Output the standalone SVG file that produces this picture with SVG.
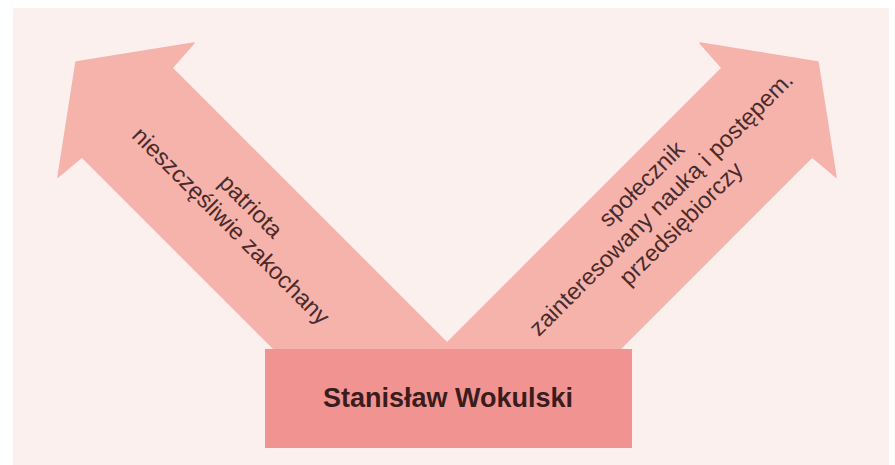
<svg xmlns="http://www.w3.org/2000/svg" width="895" height="465" viewBox="0 0 895 465">
  <style>
    .arrow { fill: #F5B3AC; stroke: #F5B3AC; stroke-width: 1.5; stroke-linejoin: round; }
    .lbl { font-family: "Liberation Sans", Arial, sans-serif; font-size: 23.5px; fill: #4a2a2a; text-anchor: middle; }
    .box { fill: #F19390; }
    .title { font-family: "Liberation Sans", Arial, sans-serif; font-size: 27px; font-weight: bold; fill: #3a1c1c; text-anchor: middle; }
  </style>
  <rect x="0" y="0" width="895" height="465" fill="#ffffff"/>
  <rect id="background" x="13" y="8" width="876" height="457" fill="#FCF0EE"/>
  <g id="connectors">
    <g id="arrow-left">
      <polygon class="arrow" points="274,349 82,157 58,177 76,62 194,43 172,68 453,349"/>
      <g transform="translate(225.5,231.5) rotate(45)">
        <text class="lbl" x="0" y="-28">patriota</text>
        <text class="lbl" x="0" y="0">nieszczęśliwie zakochany</text>
      </g>
    </g>
    <g id="arrow-right">
      <polygon class="arrow" points="620,349 812,157 836,177 818,62 700,43 722,68 441,349"/>
      <g transform="translate(666.75,209.25) rotate(-45)">
        <text class="lbl" x="0" y="-28">społecznik</text>
        <text class="lbl" x="0" y="0">zainteresowany nauką i postępem.</text>
        <text class="lbl" x="0" y="28">przedsiębiorczy</text>
      </g>
    </g>
  </g>
  <g id="node-wokulski">
    <rect class="box" x="265" y="349" width="367" height="99"/>
    <text class="title" x="448" y="407">Stanisław Wokulski</text>
  </g>
</svg>
